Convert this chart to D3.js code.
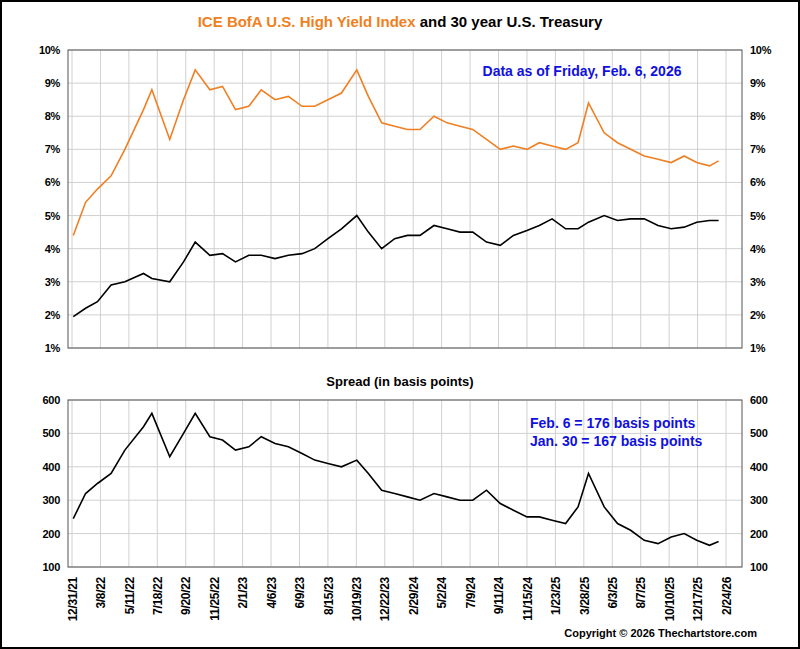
<!DOCTYPE html>
<html lang="en">
<head>
  <meta charset="UTF-8">
  <title>High Yield vs 30yr Treasury</title>
  <script src="https://d3js.org/d3.v7.min.js"></script>
  <style>
    body { margin: 0; background: #fff; }
    text { font-family: Arial, "Liberation Sans", sans-serif; }
    .tick text { font-size: 11px; font-weight: bold; letter-spacing: -0.3px; }
    .xaxis .tick text { font-size: 12px; }
  </style>
</head>
<body>
  <svg id="chart" width="800" height="649"></svg>
  <script>
    // monthly readings, Jan 2022 .. Feb 2026
    const months = [
      '2022-01-03','2022-02-01','2022-03-01','2022-04-01','2022-05-02','2022-06-15','2022-07-05','2022-08-15','2022-09-15','2022-10-12','2022-11-15','2022-12-15',
      '2023-01-15','2023-02-15','2023-03-15','2023-04-15','2023-05-15','2023-06-15','2023-07-15','2023-08-15','2023-09-15','2023-10-20','2023-11-15','2023-12-15',
      '2024-01-15','2024-02-15','2024-03-15','2024-04-15','2024-05-15','2024-06-15','2024-07-15','2024-08-15','2024-09-15','2024-10-15','2024-11-15','2024-12-15',
      '2025-01-15','2025-02-15','2025-03-15','2025-04-08','2025-05-15','2025-06-15','2025-07-15','2025-08-15','2025-09-15','2025-10-15','2025-11-15','2025-12-15',
      '2026-01-15','2026-02-06'
    ];
    const highYield = [4.4,5.4,5.8,6.2,7.0,8.2,8.8,7.3,8.5,9.4,8.8,8.9,
      8.2,8.3,8.8,8.5,8.6,8.3,8.3,8.5,8.7,9.4,8.6,7.8,
      7.7,7.6,7.6,8.0,7.8,7.7,7.6,7.3,7.0,7.1,7.0,7.2,
      7.1,7.0,7.2,8.4,7.5,7.2,7.0,6.8,6.7,6.6,6.8,6.6,
      6.5,6.65];
    const treasury = [1.95,2.2,2.4,2.9,3.0,3.25,3.1,3.0,3.6,4.2,3.8,3.85,
      3.6,3.8,3.8,3.7,3.8,3.85,4.0,4.3,4.6,5.0,4.5,4.0,
      4.3,4.4,4.4,4.7,4.6,4.5,4.5,4.2,4.1,4.4,4.55,4.7,
      4.9,4.6,4.6,4.8,5.0,4.85,4.9,4.9,4.7,4.6,4.65,4.8,
      4.85,4.85];
    const spread = [245,320,350,380,450,520,560,430,500,560,490,480,
      450,460,490,470,460,440,420,410,400,420,380,330,
      320,310,300,320,310,300,300,330,290,270,250,250,
      240,230,280,380,280,230,210,180,170,190,200,180,
      165,176];
    const tickLabels = ['12/31/21','3/8/22','5/11/22','7/18/22','9/20/22','11/25/22','2/1/23','4/6/23','6/9/23','8/15/23','10/19/23','12/22/23',
      '2/29/24','5/2/24','7/9/24','9/11/24','11/15/24','1/23/25','3/28/25','6/3/25','8/7/25','10/10/25','12/17/25','2/24/26'];
    const pctTicks = [1,2,3,4,5,6,7,8,9,10];
    const spreadTicks = [100,200,300,400,500,600];

    const parse = d3.timeParse('%Y-%m-%d');
    const parseTick = d3.timeParse('%m/%d/%y');
    const dates = months.map(parse);
    const tickDates = tickLabels.map(parseTick);

    const svg = d3.select('#chart');
    svg.append('rect').attr('x', 1).attr('y', 1).attr('width', 798).attr('height', 647)
      .attr('fill', '#fff').attr('stroke', '#000').attr('stroke-width', 2);

    const left = 68, right = 742;
    // ticks are evenly spaced (trading-day axis), so map piecewise
    const x = d3.scaleTime().domain(tickDates)
      .range(tickDates.map((d, i) => 72 + i * (726 - 72) / (tickDates.length - 1)));
    const yTop = d3.scaleLinear().domain([1, 10]).range([348, 50]);
    const yBot = d3.scaleLinear().domain([100, 600]).range([567, 400]);

    function panel(y, ticks, fmt, top, bottom) {
      const g = svg.append('g');
      g.selectAll('.vg').data(tickDates).enter().append('line')
        .attr('x1', d => x(d)).attr('x2', d => x(d)).attr('y1', top).attr('y2', bottom)
        .attr('stroke', '#d0d0d0');
      g.selectAll('.hg').data(ticks).enter().append('line')
        .attr('x1', left).attr('x2', right).attr('y1', d => y(d)).attr('y2', d => y(d))
        .attr('stroke', '#d0d0d0');
      g.append('rect').attr('x', left).attr('y', top).attr('width', right - left).attr('height', bottom - top)
        .attr('fill', 'none').attr('stroke', '#555');
      g.append('g').attr('transform', `translate(${left},0)`)
        .call(d3.axisLeft(y).tickValues(ticks).tickFormat(fmt).tickSize(0).tickPadding(8))
        .call(a => a.select('.domain').remove());
      g.append('g').attr('transform', `translate(${right},0)`)
        .call(d3.axisRight(y).tickValues(ticks).tickFormat(fmt).tickSize(0).tickPadding(8))
        .call(a => a.select('.domain').remove());
      g.selectAll('.tick text').attr('fill', '#000');
    }

    panel(yTop, pctTicks, d => d + '%', 50, 348);
    panel(yBot, spreadTicks, d => d, 400, 567);

    const xa = svg.append('g').attr('class', 'xaxis').attr('transform', 'translate(0,567)')
      .call(d3.axisBottom(x).tickValues(tickDates).tickFormat((d, i) => tickLabels[i]).tickSize(0));
    xa.select('.domain').remove();
    xa.selectAll('text').attr('transform', 'rotate(-90)').attr('text-anchor', 'end')
      .attr('x', -10).attr('y', 0).attr('dy', '0.35em').attr('fill', '#000');

    const lineTop = v => d3.line().x((d, i) => x(dates[i])).y(d => yTop(d))(v);
    svg.append('path').attr('d', lineTop(highYield)).attr('fill', 'none').attr('stroke', '#f07f22').attr('stroke-width', 1.6);
    svg.append('path').attr('d', lineTop(treasury)).attr('fill', 'none').attr('stroke', '#000').attr('stroke-width', 1.6);
    svg.append('path').attr('d', d3.line().x((d, i) => x(dates[i])).y(d => yBot(d))(spread))
      .attr('fill', 'none').attr('stroke', '#000').attr('stroke-width', 1.6);

    const title = svg.append('text').attr('x', 400).attr('y', 27).attr('text-anchor', 'middle')
      .attr('font-size', 15).attr('font-weight', 'bold');
    title.append('tspan').attr('fill', '#f07f22').text('ICE BofA U.S. High Yield Index');
    title.append('tspan').attr('fill', '#000').text(' and 30 year U.S. Treasury');

    svg.append('text').attr('x', 582).attr('y', 76).attr('text-anchor', 'middle')
      .attr('font-size', 14).attr('font-weight', 'bold').attr('fill', '#1010e0')
      .text('Data as of Friday, Feb. 6, 2026');
    svg.append('text').attr('x', 400).attr('y', 386).attr('text-anchor', 'middle')
      .attr('font-size', 13).attr('font-weight', 'bold').text('Spread (in basis points)');
    svg.append('text').attr('x', 530).attr('y', 428).attr('font-size', 14).attr('font-weight', 'bold')
      .attr('fill', '#1010e0').text('Feb. 6 = 176 basis points');
    svg.append('text').attr('x', 530).attr('y', 446).attr('font-size', 14).attr('font-weight', 'bold')
      .attr('fill', '#1010e0').text('Jan. 30 = 167 basis points');
    svg.append('text').attr('x', 757).attr('y', 637).attr('text-anchor', 'end')
      .attr('font-size', 11).attr('font-weight', 'bold').text('Copyright © 2026 Thechartstore.com');
  </script>
</body>
</html>
